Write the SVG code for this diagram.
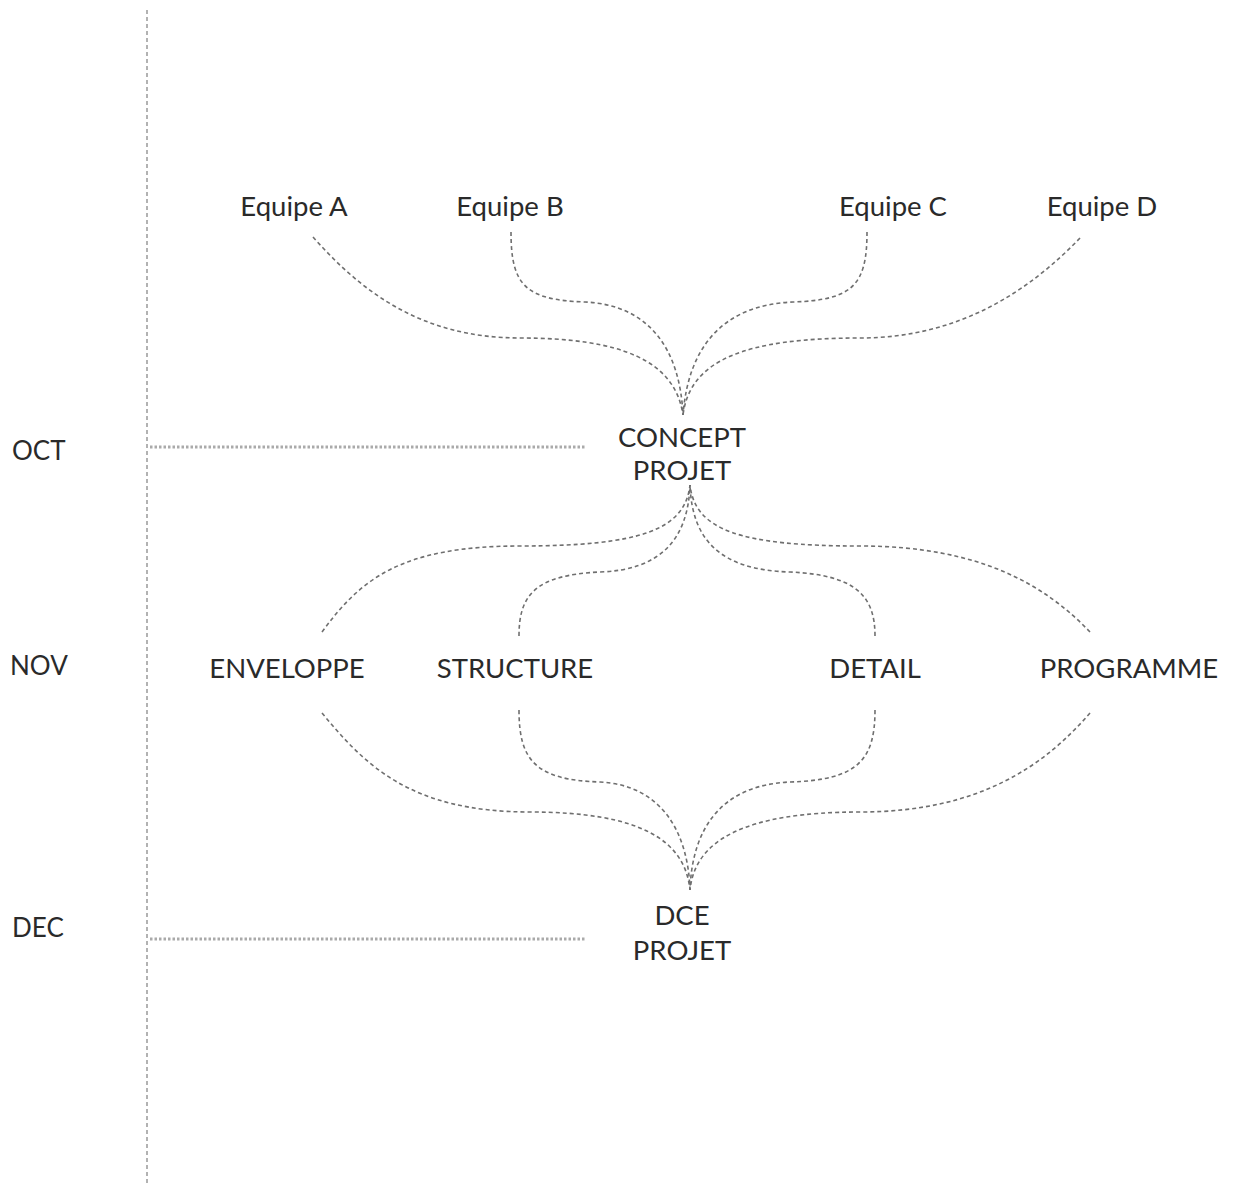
<svg xmlns="http://www.w3.org/2000/svg" width="1233" height="1186" viewBox="0 0 1233 1186">
<style>
text{font-family:"Lato","Liberation Sans",sans-serif;font-size:27.5px;fill:#2a2a2a;text-anchor:middle}
.m{text-anchor:start;font-size:26px}
.c{fill:none;stroke:#6f6f6f;stroke-width:1.6;stroke-dasharray:4 3}
.axis{fill:none;stroke:#999;stroke-width:1.5;stroke-dasharray:4 3}
.h{fill:none;stroke:#aaa;stroke-width:3;stroke-dasharray:2.5 2}
</style>
<rect width="1233" height="1186" fill="#fff"/>
<g id="timeline">
<line class="axis" x1="147" y1="10" x2="147" y2="1186"/>
<line class="h" x1="150" y1="447" x2="585" y2="447"/>
<line class="h" x1="150" y1="939" x2="585" y2="939"/>
<text class="m" x="12" y="460">OCT</text>
<text class="m" x="10" y="675">NOV</text>
<text class="m" x="12" y="937">DEC</text>
</g>
<g id="connectors">
<path class="c" d="M313,237 C360,290 420,338 520,338 C620,338 675,360 683,415"/>
<path class="c" d="M511,232 C511,285 525,300 585,302 C650,305 680,350 683,415"/>
<path class="c" d="M867,232 C867,285 853,300 793,302 C720,305 688,350 683,415"/>
<path class="c" d="M1080,238 C1030,290 960,338 860,338 C745,338 690,360 683,415"/>
<path class="c" d="M322,632 C360,580 400,546 520,546 C640,546 685,530 690,485"/>
<path class="c" d="M519,636 C519,595 535,575 600,572 C660,570 688,540 690,485"/>
<path class="c" d="M875,636 C875,595 855,575 790,572 C720,570 692,540 690,485"/>
<path class="c" d="M1090,632 C1045,585 980,546 860,546 C740,546 695,530 690,485"/>
<path class="c" d="M322,713 C365,765 410,812 530,812 C640,812 685,840 690,890"/>
<path class="c" d="M519,710 C519,760 535,780 600,782 C660,785 688,830 690,890"/>
<path class="c" d="M875,710 C875,760 858,780 790,782 C720,785 692,830 690,890"/>
<path class="c" d="M1090,713 C1045,765 980,812 860,812 C745,812 695,840 690,890"/>
</g>
<g id="equipe-a"><text x="294" y="216">Equipe A</text></g>
<g id="equipe-b"><text x="510" y="216">Equipe B</text></g>
<g id="equipe-c"><text x="893" y="216">Equipe C</text></g>
<g id="equipe-d"><text x="1102" y="216">Equipe D</text></g>
<g id="concept-projet"><text x="682" y="447">CONCEPT</text><text x="682" y="480">PROJET</text></g>
<g id="enveloppe"><text x="287" y="678">ENVELOPPE</text></g>
<g id="structure"><text x="515" y="678">STRUCTURE</text></g>
<g id="detail"><text x="875" y="678">DETAIL</text></g>
<g id="programme"><text x="1129" y="678">PROGRAMME</text></g>
<g id="dce-projet"><text x="682" y="925">DCE</text><text x="682" y="960">PROJET</text></g>
</svg>
